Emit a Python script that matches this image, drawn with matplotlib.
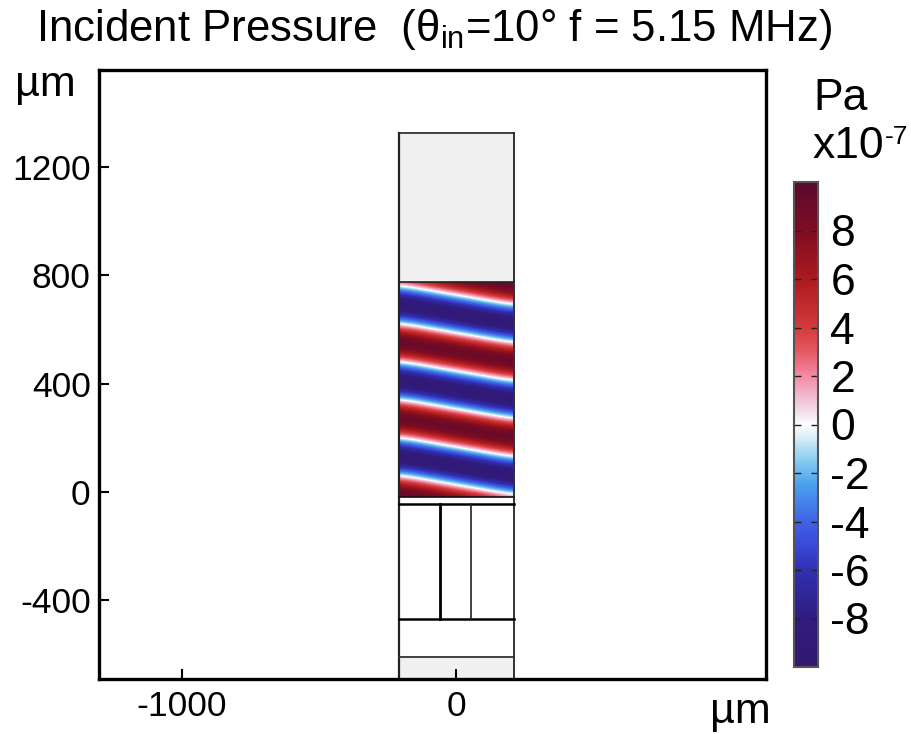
import numpy as np
import matplotlib
matplotlib.use('Agg')
from matplotlib import pyplot as plt
from matplotlib.colors import LinearSegmentedColormap, Normalize
from matplotlib.cm import ScalarMappable
from matplotlib.patches import Rectangle

plt.rcParams['font.family'] = ['Liberation Sans', 'DejaVu Sans']
plt.rcParams['mathtext.fontset'] = 'custom'
plt.rcParams['mathtext.rm'] = 'Liberation Sans'
plt.rcParams['mathtext.it'] = 'Liberation Sans'
plt.rcParams['mathtext.default'] = 'rm'
plt.rcParams['axes.unicode_minus'] = False

# pressure (x10^-7 Pa) read down the stripes, 5 px steps, outer rows included
profile = [9.0, 9.5, 8.4, 5.8, 2.3, -1.6, -5.2, -8.0, -9.4, -9.2, -7.5, -4.5,
           -0.8, 3.1, 6.4, 8.7, 9.5, 8.7, 6.4, 3.1, -0.8, -4.5, -7.5, -9.2,
           -9.4, -8.0, -5.2, -1.6, 2.3, 5.8, 8.4, 9.5, 9.0, 7.0, 3.8, 0.0,
           -3.8, -7.0, -9.0, -9.5, -8.4, -5.8, -2.3, 1.6, 5.2, 8.0, 9.4, 9.2]

# geometry in um
box_left = -210
box_right = 210
box_top = 1325
field_top = 775
field_bottom = -18
layer_lines = [-44, -469, -609]
inner_x = [-58, 55]
x_ticks = [-1000, 0]
y_ticks = [-400, 0, 400, 800, 1200]
cbar_ticks = [-8, -6, -4, -2, 0, 2, 4, 6, 8]

cmap_colors = [(0.0, '#34176e'), (0.1, '#301c80'), (0.2, '#3030b0'), (0.25, '#3a48d8'),
               (0.3, '#3f62e6'), (0.375, '#4aa0ee'), (0.425, '#86ccf0'), (0.475, '#dceef6'),
               (0.5, '#ffffff'), (0.525, '#f2e0ea'), (0.55, '#f0c4d8'), (0.6, '#f58aa6'),
               (0.65, '#e65a62'), (0.7, '#d43a3c'), (0.8, '#ac1a1e'), (0.9, '#7e0c22'),
               (1.0, '#5a0a2e')]
pressure_cmap = LinearSegmentedColormap.from_list('pressure', cmap_colors, N=512)
norm = Normalize(-10, 10)

fig = plt.figure(figsize=(9.12, 7.34), dpi=100)
W, H = 912.0, 734.0
ax = fig.add_axes([99 / W, 1 - 679 / H, (766 - 99) / W, (679 - 70) / H])

# each of the 5 columns sits one row further along the tilted stripes
n_rows = len(profile) - 4
field = np.array([profile[4 - j:4 - j + n_rows] for j in range(5)]).T
dx = (box_right - box_left) / 4.0
dy = (field_top - field_bottom) / (n_rows - 1.0)
im = ax.imshow(field, cmap=pressure_cmap, norm=norm, aspect='auto', zorder=1,
               interpolation='bicubic', interpolation_stage='data',
               extent=[box_left - dx / 2, box_right + dx / 2,
                       field_bottom - dy / 2, field_top + dy / 2])
im.set_clip_path(Rectangle((box_left, field_bottom), box_right - box_left,
                           field_top - field_bottom, transform=ax.transData))
ax.set_xlim(-1303, 1131)
ax.set_ylim(-690, 1557)

# grey air / backing regions
ax.fill_between([box_left, box_right], field_top, box_top, color='#f0f0f0', lw=0, zorder=1)
ax.fill_between([box_left, box_right], -690, layer_lines[2], color='#f0f0f0', lw=0, zorder=1)

# outline of the domains
ax.plot([box_left, box_left], [-690, box_top], color='#222222', lw=1.6, zorder=2)
ax.plot([box_right, box_right], [-690, box_top], color='#333333', lw=1.4, zorder=2)
ax.plot([box_left, box_right], [box_top, box_top], color='#222222', lw=1.2, zorder=2)
ax.plot([box_left, box_right], [field_top, field_top], color='#222222', lw=1.2, zorder=2)
ax.plot([box_left, box_right], [field_bottom, field_bottom], color='#111111', lw=1.2, zorder=2)
ax.plot([box_left, box_right], [layer_lines[0]] * 2, color='black', lw=1.8, zorder=2)
ax.plot([box_left, box_right], [layer_lines[1]] * 2, color='black', lw=1.8, zorder=2)
ax.plot([box_left, box_right], [layer_lines[2]] * 2, color='#333333', lw=1.3, zorder=2)
ax.plot([inner_x[0]] * 2, [layer_lines[1], layer_lines[0]], color='black', lw=2.0, zorder=2)
ax.plot([inner_x[1]] * 2, [layer_lines[1], layer_lines[0]], color='#222222', lw=1.2, zorder=2)

for s in ax.spines.values():
    s.set_linewidth(2.4)
ax.set_xticks(x_ticks)
ax.set_yticks(y_ticks)
ax.tick_params(direction='in', length=7, width=1.5, labelsize=25.5)
ax.tick_params(axis='x', pad=8)
ax.tick_params(axis='y', pad=6)

fig.text(434.5 / W, 1 - 29 / H, r'Incident Pressure  ($\theta_{in}$=10° f = 5.15 MHz)',
         fontsize=31.5, ha='center', va='center')
fig.text(45 / W, 1 - 85 / H, 'µm', fontsize=31, ha='center', va='center')
fig.text(740 / W, 1 - 712 / H, 'µm', fontsize=31, ha='center', va='center')
fig.text(841 / W, 1 - 98 / H, 'Pa', fontsize=32, ha='center', va='center')
fig.text(813 / W, 1 - 146 / H, 'x10', fontsize=32, ha='left', va='center')
fig.text(885 / W, 1 - 137 / H, '-7', fontsize=19, ha='left', va='center')

# colorbar
cax = fig.add_axes([794 / W, 1 - 667 / H, 24 / W, 485 / H])
cb = fig.colorbar(ScalarMappable(norm=norm, cmap=pressure_cmap), cax=cax)
cb.set_ticks(cbar_ticks)
cb.ax.tick_params(direction='in', length=5, width=1.0, color='#222222', labelsize=32,
                  left=True, right=True, pad=9)
cb.outline.set_edgecolor('#555555')
cb.outline.set_linewidth(1.5)

fig.savefig('out.png', dpi=100)
